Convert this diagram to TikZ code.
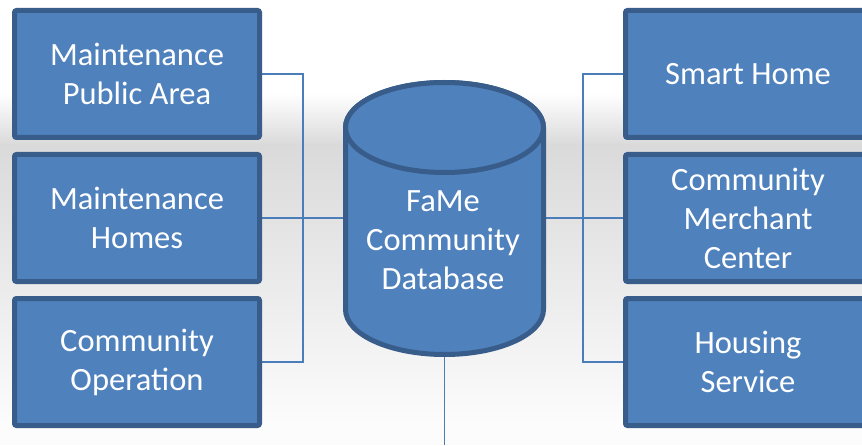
\documentclass[tikz,border=0pt]{standalone}
\usepackage{fontspec}
\setmainfont{Carlito}
\definecolor{boxfill}{HTML}{4F81BD}
\definecolor{boxline}{HTML}{385D8A}
\definecolor{conn}{HTML}{4A7EBB}
\definecolor{bggrey}{HTML}{DADADA}
\definecolor{bglow}{HTML}{FCFCFC}
\begin{document}
\begin{tikzpicture}[x=1pt,y=1pt,
  box/.style={draw=boxline, fill=boxfill, line width=5pt, rounded corners=2pt,
    minimum width=245pt, minimum height=127pt, text=white, align=center,
    font=\fontsize{32.5}{39}\selectfont, inner sep=0pt},
  conline/.style={draw=conn, line width=1.5pt},
  dbshape/.style={draw=boxline, fill=boxfill, line width=5pt}]
\useasboundingbox (0,0) rectangle (862,445);
\clip (0,0) rectangle (862,445);
% background
\fill[white] (0,0) rectangle (862,445);
\shade[top color=white, bottom color=bggrey] (0,300) rectangle (862,352);
\shade[top color=bggrey, bottom color=bglow] (0,20) rectangle (862,300.1);
\fill[bglow] (0,0) rectangle (862,20.1);
% junction coordinates
\coordinate (jl) at (303,227);
\coordinate (jr) at (583,227);
\coordinate (dbw) at (343,227);
\coordinate (dbe) at (546,227);
\coordinate (dbs) at (444.5,88);
\coordinate (bot) at (444.5,0);
% connectors
\draw[conline] (262,371) -| (jl);
\draw[conline] (jl) |- (262,83);
\draw[conline] (262,227) -- (dbw);
\draw[conline] (623,371) -| (jr);
\draw[conline] (jr) |- (623,83);
\draw[conline] (dbe) -- (623,227);
\draw[conline] (dbs) -- (bot);
% boxes
\node[box] (l1) at (137,371) {Maintenance\\Public Area};
\node[box] (l2) at (137,227) {Maintenance\\Homes};
\node[box] (l3) at (137,83) {Community\\Operation};
\node[box] (r1) at (748,371) {Smart Home};
\node[box] (r2) at (748,227) {Community\\Merchant\\Center};
\node[box] (r3) at (748,83) {Housing\\Service};
% cylinder
\path[dbshape] (345.5,317.5) -- (345.5,135.5) arc[start angle=180, end angle=360, x radius=99, y radius=45] -- (543.5,317.5) arc[start angle=0, end angle=180, x radius=99, y radius=45] -- cycle;
\draw[dbshape] (444.5,317.5) ellipse[x radius=99, y radius=45];
\node[text=white, align=center, font=\fontsize{32.5}{39}\selectfont, inner sep=0pt] (db) at (443,205) {FaMe\\Community\\Database};
\end{tikzpicture}
\end{document}
